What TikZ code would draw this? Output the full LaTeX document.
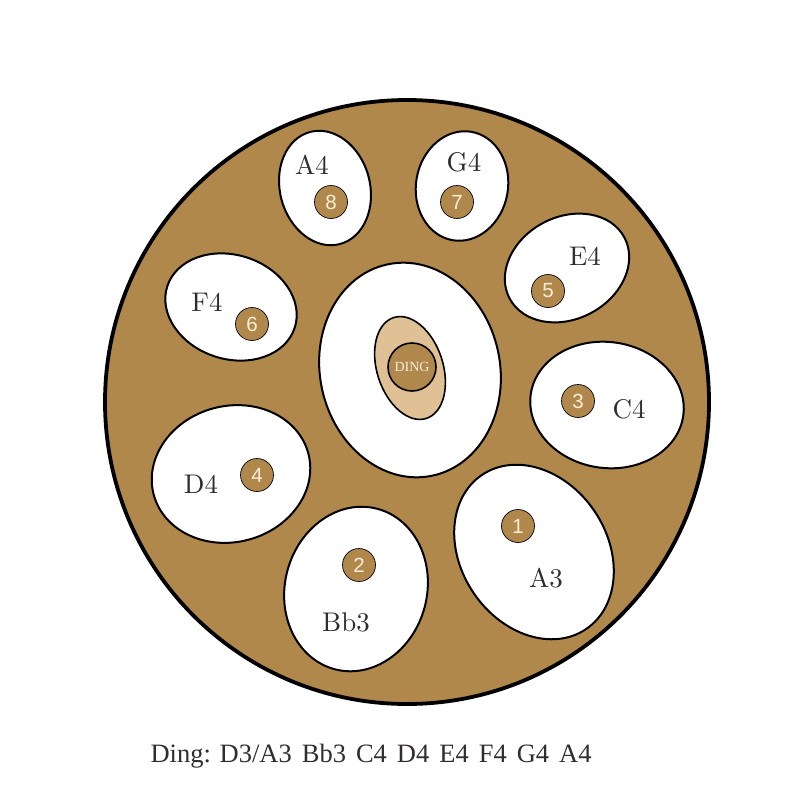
\documentclass[tikz,border=0pt]{standalone}
\usepackage{fontspec}
\setmainfont{Latin Modern Roman}
\newfontfamily\lmten{lmroman10-regular.otf}
\newfontfamily\footfont{Liberation Serif}
\newfontfamily\numfont{Liberation Sans}
\definecolor{pan}{RGB}{176,136,76}
\definecolor{tan}{RGB}{223,193,149}
\definecolor{cream}{RGB}{250,238,215}
\definecolor{ink}{RGB}{50,45,45}
\begin{document}
\begin{tikzpicture}[x=1pt,y=-1pt,
  field/.style={draw=black,line width=2pt,fill=white},
  num/.style={circle,draw=black,line width=0.7pt,fill=pan,minimum size=33pt,inner sep=0pt,text=cream,font=\numfont\fontsize{20.5}{20.5}\selectfont},
  note/.style={text=ink,font=\lmten\fontsize{27}{27}\selectfont}]
\useasboundingbox (0,0) rectangle (800,800);
\fill[white] (0,0) rectangle (800,800);
% body
\draw[line width=3.8pt,fill=pan] (407,402) circle (302);
% center
\draw[field,rotate around={12:(410,370)}] (410,370) ellipse [x radius=90,y radius=108];
\draw[line width=1.6pt,fill=tan,rotate around={18:(410,368)}] (410,368) ellipse [x radius=33,y radius=53];
\node[circle,draw=black,line width=1.6pt,fill=pan,minimum size=48pt,inner sep=0pt,text=cream,font=\footfont\fontsize{14}{14}\selectfont] (ding) at (412,367) {DING};
% fields
\draw[field,rotate around={15:(325,188)}] (325,188) ellipse [x radius=45,y radius=58];
\draw[field,rotate around={-10:(462,186)}] (462,186) ellipse [x radius=46,y radius=55];
\draw[field,rotate around={28:(567,268)}] (567,268) ellipse [x radius=65,y radius=51];
\draw[field,rotate around={-18:(231,307)}] (231,307) ellipse [x radius=67,y radius=52];
\draw[field,rotate around={-8:(607,405)}] (607,405) ellipse [x radius=77,y radius=63];
\draw[field,rotate around={15:(231,474)}] (231,474) ellipse [x radius=80,y radius=68];
\draw[field,rotate around={-15:(356,589)}] (356,589) ellipse [x radius=71,y radius=83];
\draw[field,rotate around={34:(534,552)}] (534,552) ellipse [x radius=73,y radius=93];
% numbers
\node[num] (n1) at (518,526) {1};
\node[num] (n2) at (359,565) {2};
\node[num] (n3) at (578,401) {3};
\node[num] (n4) at (257,475) {4};
\node[num] (n5) at (548,291) {5};
\node[num] (n6) at (252,324) {6};
\node[num] (n7) at (457,202) {7};
\node[num] (n8) at (331,202) {8};
% labels
\node[note] (l8) at (312,165) {A4};
\node[note] (l7) at (464,162) {G4};
\node[note] (l5) at (585,256) {E4};
\node[note] (l6) at (207,302) {F4};
\node[note] (l3) at (629,409) {C4};
\node[note] (l4) at (201,484) {D4};
\node[note] (l1) at (546,578) {A3};
\node[note] (l2) at (346,622) {Bb3};
% footer
\node[text=ink,font=\footfont\fontsize{26.5}{26.5}\selectfont,anchor=west] (foot) at (147,756) {Ding: D3/A3\hspace{10pt}Bb3\hspace{10pt}C4\hspace{10pt}D4\hspace{10pt}E4\hspace{10pt}F4\hspace{10pt}G4\hspace{10pt}A4};
\end{tikzpicture}
\end{document}
